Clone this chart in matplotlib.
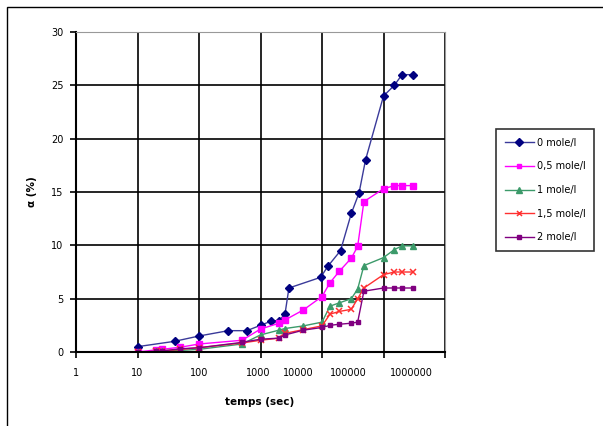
import numpy as np
import matplotlib
matplotlib.use("Agg")
import matplotlib.pyplot as plt
from matplotlib.patches import Rectangle
from matplotlib.transforms import blended_transform_factory

plt.rcParams['font.family'] = ['DejaVu Sans']

# time (s) for the 0 mole/l series
t_blue = [10, 40, 100, 300, 600, 1000, 1500, 2000, 2500, 2900, 9500, 12500,
          20000, 30000, 40000, 51000, 100000, 150000, 200000, 300000]
g_0 = [0.5, 1.0, 1.5, 2.0, 2.0, 2.5, 2.9, 2.95, 3.55, 6.0, 7.0, 8.05,
       9.5, 13.0, 14.9, 18.0, 24.0, 25.0, 26.0, 26.0]

# time (s) for the other series
t = [10, 20, 25, 50, 100, 500, 1000, 2000, 2500, 5000, 10000, 13500,
     19000, 30000, 38000, 48000, 100000, 150000, 200000, 300000]
g_05 = [0, 0.2, 0.25, 0.45, 0.75, 1.1, 2.15, 2.7, 3.0, 3.95, 5.2, 6.5,
        7.55, 8.8, 9.9, 14.1, 15.3, 15.6, 15.6, 15.6]
g_1 = [0, 0.05, 0.1, 0.15, 0.25, 0.75, 1.6, 2.05, 2.2, 2.45, 2.8, 4.3,
       4.6, 5.0, 5.9, 8.1, 8.85, 9.6, 9.95, 9.95]
g_15 = [0, 0.05, 0.1, 0.25, 0.4, 0.85, 1.1, 1.3, 1.75, 2.1, 2.45, 3.55,
        3.8, 4.0, 5.0, 6.0, 7.25, 7.5, 7.5, 7.5]
g_2 = [0, 0.05, 0.1, 0.3, 0.4, 0.9, 1.2, 1.3, 1.6, 2.05, 2.3, 2.5,
       2.6, 2.7, 2.8, 5.7, 6.0, 6.0, 6.0, 6.0]

x_ticks = [1, 10, 100, 1000, 10000, 100000, 1000000]
x_labels = ['1', '10', '100', '1000', '10000', '100000', '1000000']
# where the labels sit in the original (log10 units), they are squeezed
x_label_pos = [0, 1.0, 2.0, 2.96, 3.61, 4.42, 5.46]

W, H = 603, 426
fig = plt.figure(figsize=(W / 100, H / 100), dpi=100)
ax = fig.add_axes([76 / W, 1 - 352 / H, (445 - 76) / W, (352 - 32) / H])

ax.plot(t_blue, g_0, color='#3a3a9a', lw=1, marker='D', ms=4,
        mfc='#000080', mec='#000080', label='0 mole/l')
ax.plot(t, g_05, color='#ff00ff', lw=1, marker='s', ms=3.8,
        mfc='#ff00ff', mec='#ff00ff', label='0,5 mole/l')
ax.plot(t, g_1, color='#3c9a6a', lw=1, marker='^', ms=4.8,
        mfc='#3c9a6a', mec='#3c9a6a', label='1 mole/l')
ax.plot(t, g_15, color='#ff3030', lw=1, marker='x', ms=4, mew=1.1,
        label='1,5 mole/l')
ax.plot(t, g_2, color='#800080', lw=1, marker='s', ms=3,
        mfc='#800080', mec='#800080', label='2 mole/l')

ax.set_xscale('log')
ax.set_xlim(1, 1e6)
ax.set_ylim(0, 30)
ax.set_xticks(x_ticks)
ax.set_xticklabels([''] * len(x_ticks))
ax.xaxis.set_minor_locator(matplotlib.ticker.NullLocator())
ax.set_yticks(np.arange(0, 31, 5))
ax.grid(True, color='black', lw=1.2)
ax.tick_params(axis='both', direction='out', length=4, width=1.2, labelsize=7, pad=5)
for s in ['left', 'bottom']:
    ax.spines[s].set_linewidth(1.5)
ax.spines['top'].set_color('#999999')
ax.spines['right'].set_color('#999999')

trans = blended_transform_factory(ax.transData, ax.transAxes)
for pos, lab in zip(x_label_pos, x_labels):
    ax.text(10 ** pos, -0.066, lab, transform=trans, ha='center', va='center', fontsize=7)

fig.text(260 / W, 1 - 402 / H, 'temps (sec)', ha='center', va='center',
         fontsize=7.5, fontweight='bold')
fig.text(32 / W, 1 - 192 / H, 'α (%)', ha='center', va='center',
         fontsize=7.5, fontweight='bold', rotation=90)

leg = fig.legend(loc='upper left', bbox_to_anchor=(496 / W, 1 - 129 / H),
                 borderaxespad=0, fontsize=7, handlelength=3.0, handletextpad=0.3,
                 labelspacing=1.4, fancybox=False, edgecolor='black',
                 borderpad=0.9, markerscale=0.9)
leg.get_frame().set_linewidth(1.2)

fig.add_artist(Rectangle((7 / W, -0.1), 1.2, 1.1 - 7 / H, fill=False,
                         transform=fig.transFigure, lw=1, edgecolor='black'))

fig.savefig('out.png', dpi=100)
